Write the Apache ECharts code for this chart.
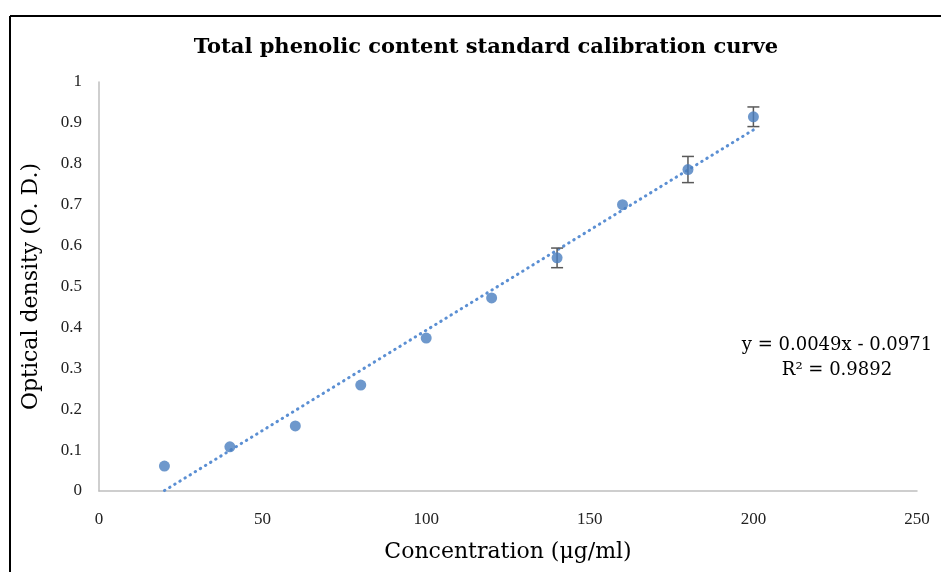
<!DOCTYPE html>
<html>
<head>
<meta charset="utf-8">
<script src="https://cdn.jsdelivr.net/npm/echarts@6/dist/echarts.min.js"></script>
<style>html,body{margin:0;padding:0;background:#fff;}#c{width:941px;height:572px;}</style>
</head>
<body>
<div id="c"></div>
<script>
var concentrations = [20, 40, 60, 80, 100, 120, 140, 160, 180, 200];
var absorbance = [0.061, 0.108, 0.159, 0.259, 0.374, 0.472, 0.570, 0.700, 0.786, 0.915];
var errors = [0, 0, 0, 0, 0, 0, 0.024, 0, 0.032, 0.024];
var trendPoints = [[20, 0.001], [200, 0.883]];
var xTicks = [0, 50, 100, 150, 200, 250];
var yTicks = [0, 0.1, 0.2, 0.3, 0.4, 0.5, 0.6, 0.7, 0.8, 0.9, 1];

var serif = '"Liberation Serif", serif';
var wide = '"DejaVu Serif", "Liberation Serif", serif';
var chart = echarts.init(document.getElementById('c'));
var pts = concentrations.map(function (x, i) { return [x, absorbance[i]]; });
var errData = concentrations.map(function (x, i) { return [x, absorbance[i] - errors[i], absorbance[i] + errors[i], errors[i]]; });

chart.setOption({
  animation: false,
  backgroundColor: '#fff',
  title: {
    text: 'Total phenolic content standard calibration curve',
    left: 481, top: 32, textAlign: 'center',
    textStyle: { fontFamily: wide, fontSize: 21, fontWeight: 'bold', color: '#000' }
  },
  grid: { left: 99, right: 24, top: 82, bottom: 81, containLabel: false },
  xAxis: {
    type: 'value', min: 0, max: 250, interval: 50,
    name: 'Concentration (μg/ml)', nameLocation: 'middle', nameGap: 50,
    nameTextStyle: { fontFamily: wide, fontSize: 22, color: '#000' },
    axisLine: { show: true, lineStyle: { color: '#bfbfbf', width: 1.5 } },
    axisTick: { show: false },
    splitLine: { show: false },
    axisLabel: { fontFamily: serif, fontSize: 17, color: '#222', margin: 20 }
  },
  yAxis: {
    type: 'value', min: 0, max: 1, interval: 0.1,
    name: 'Optical density (O. D.)', nameLocation: 'middle', nameGap: 57, nameRotate: 90,
    nameTextStyle: { fontFamily: wide, fontSize: 22, color: '#000' },
    axisLine: { show: true, lineStyle: { color: '#bfbfbf', width: 1.5 } },
    axisTick: { show: false },
    splitLine: { show: false },
    axisLabel: { fontFamily: serif, fontSize: 17, color: '#222', margin: 17 }
  },
  series: [
    {
      type: 'line', data: trendPoints, symbol: 'none', z: 1,
      lineStyle: { color: '#5b8fd3', width: 3, type: [0.5, 5.5], cap: 'round' }
    },
    {
      type: 'custom', data: errData, z: 2,
      renderItem: function (params, api) {
        if (!(api.value(3) > 0)) { return null; }
        var x = api.value(0);
        var lo = api.coord([x, api.value(1)]);
        var hi = api.coord([x, api.value(2)]);
        var hw = 6;
        var st = { stroke: '#595959', lineWidth: 1.5 };
        return {
          type: 'group',
          children: [
            { type: 'line', shape: { x1: lo[0], y1: lo[1], x2: hi[0], y2: hi[1] }, style: st },
            { type: 'line', shape: { x1: lo[0] - hw, y1: lo[1], x2: lo[0] + hw, y2: lo[1] }, style: st },
            { type: 'line', shape: { x1: hi[0] - hw, y1: hi[1], x2: hi[0] + hw, y2: hi[1] }, style: st }
          ]
        };
      }
    },
    {
      type: 'scatter', data: pts, symbol: 'circle', symbolSize: 11, z: 3,
      itemStyle: { color: '#4a7ebf' }
    }
  ],
  graphic: [
    { type: 'line', shape: { x1: 10, y1: 16, x2: 941, y2: 16 }, style: { stroke: '#000', lineWidth: 2 } },
    { type: 'line', shape: { x1: 10, y1: 16, x2: 10, y2: 572 }, style: { stroke: '#000', lineWidth: 2 } },
    { type: 'text', x: 837, y: 336, style: { text: 'y = 0.0049x - 0.0971', textAlign: 'center', fontFamily: wide, fontSize: 18, fill: '#000' } },
    { type: 'text', x: 837, y: 361, style: { text: 'R² = 0.9892', textAlign: 'center', fontFamily: wide, fontSize: 18, fill: '#000' } }
  ]
});
</script>
</body>
</html>
